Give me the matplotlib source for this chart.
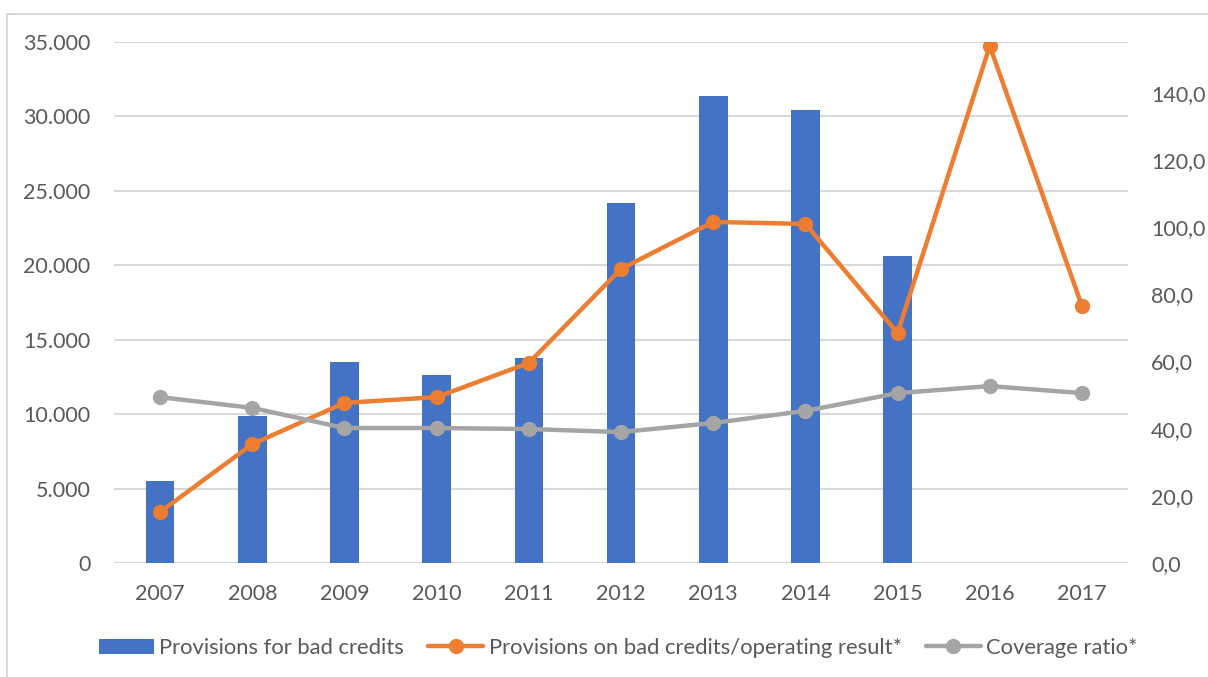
import matplotlib
matplotlib.use("Agg")
import matplotlib.pyplot as plt
from matplotlib.patches import Rectangle
from matplotlib.ticker import FuncFormatter

years = ["2007", "2008", "2009", "2010", "2011", "2012", "2013", "2014", "2015", "2016", "2017"]
provisions = [5500, 9900, 13500, 12600, 13800, 24200, 31400, 30450, 20600, None, None]
prov_ratio = [15.2, 35.4, 47.7, 49.4, 59.6, 87.6, 101.6, 101.0, 68.5, 154.0, 76.6]
coverage = [49.4, 46.2, 40.2, 40.2, 39.9, 39.0, 41.7, 45.3, 50.6, 52.7, 50.6]

left_ticks = [0, 5000, 10000, 15000, 20000, 25000, 30000, 35000]
right_ticks = [0, 20, 40, 60, 80, 100, 120, 140]

BLUE = "#4472C4"
ORANGE = "#ED7D31"
GRAY = "#A5A5A5"
TEXT = "#595959"
GRID = "#D9D9D9"

plt.rcParams["font.family"] = ["Lato", "DejaVu Sans"]

fig = plt.figure(figsize=(12.08, 6.77), dpi=100)
ax = fig.add_axes([0.0944, 0.1684, 0.8394, 0.7696])
ax2 = ax.twinx()

x = list(range(len(years)))
bar_x = [i for i, v in enumerate(provisions) if v is not None]
bar_v = [v for v in provisions if v is not None]
bars = ax.bar(bar_x, bar_v, width=0.31, color=BLUE, zorder=2,
              label="Provisions for bad credits")

l1, = ax2.plot(x, prov_ratio, color=ORANGE, lw=3.2, marker="o", ms=10,
               solid_capstyle="round", label="Provisions on bad credits/operating result*")
l2, = ax2.plot(x, coverage, color=GRAY, lw=3.2, marker="o", ms=10,
               solid_capstyle="round", label="Coverage ratio*")

ax.set_xlim(-0.5, len(years) - 0.5)
ax.set_ylim(0, 35000)
ax2.set_ylim(0, 155.2)

ax.set_yticks(left_ticks)
ax.yaxis.set_major_formatter(FuncFormatter(lambda v, p: f"{int(v):,}".replace(",", ".")))
ax2.set_yticks(right_ticks)
ax2.yaxis.set_major_formatter(FuncFormatter(lambda v, p: f"{v:.1f}".replace(".", ",")))
ax.set_xticks(x)
ax.set_xticklabels(years)

ax.grid(axis="y", color=GRID, lw=1.5, zorder=0)
ax.set_axisbelow(True)
for a in (ax, ax2):
    for s in a.spines.values():
        s.set_visible(False)
    a.tick_params(length=0, labelsize=15.5, labelcolor=TEXT)
ax.tick_params(axis="y", pad=17)
ax.tick_params(axis="x", pad=15)
ax2.tick_params(axis="y", pad=16.5)

fig.legend(handles=[bars, l1, l2], loc="center", bbox_to_anchor=(0.512, 0.043),
           ncol=3, frameon=False, fontsize=15.8, labelcolor=TEXT,
           handlelength=2.5, handletextpad=0.25, columnspacing=1.1)

fig.patches.append(Rectangle((7 / 1208, -0.05), 1.2, 1 - 14 / 677 + 0.05,
                             transform=fig.transFigure, fill=False,
                             edgecolor=GRID, lw=1.5))

fig.savefig("out.png", dpi=100)
